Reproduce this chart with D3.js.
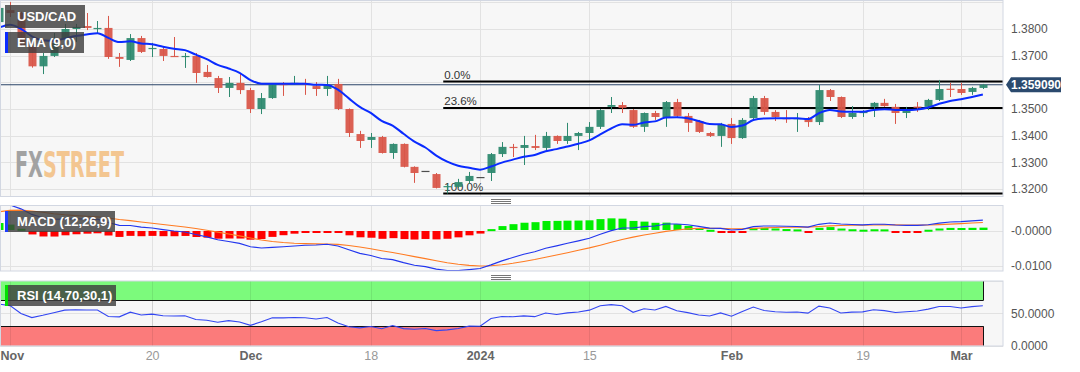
<!DOCTYPE html>
<html>
<head>
<meta charset="utf-8">
<script src="https://cdn.jsdelivr.net/npm/d3@7"></script>
<style>
  html, body { margin: 0; padding: 0; background: #fff; }
  svg { display: block; font-family: "Liberation Sans", Arial, sans-serif; }
</style>
</head>
<body>
<svg id="chart" width="1080" height="372"></svg>
<script>
// daily USD/CAD candles, Oct 31 2023 -> Mar 5 2024 (weekdays)
const opens = [
  1.3826, 1.3871, 1.3860, 1.3733, 1.3660, 1.3699, 1.3763, 1.3800, 1.3811, 1.3800,
  1.3804, 1.3695, 1.3684, 1.3766, 1.3725, 1.3725, 1.3699, 1.3695, 1.3699, 1.3639,
  1.3616, 1.3579, 1.3598, 1.3571, 1.3500, 1.3541, 1.3594, 1.3594, 1.3596, 1.3586,
  1.3575, 1.3594, 1.3500, 1.3406, 1.3384, 1.3395, 1.3335, 1.3369, 1.3283, 1.3268,
  1.3256, 1.3208, 1.3208, 1.3230, 1.3245, 1.3260, 1.3331, 1.3358, 1.3354, 1.3361,
  1.3354, 1.3399, 1.3380, 1.3399, 1.3410, 1.3433, 1.3508, 1.3515, 1.3496, 1.3433,
  1.3485, 1.3470, 1.3526, 1.3474, 1.3455, 1.3410, 1.3399, 1.3444, 1.3391, 1.3466,
  1.3541, 1.3489, 1.3466, 1.3463, 1.3463, 1.3451, 1.3571, 1.3545, 1.3470, 1.3485,
  1.3508, 1.3523, 1.3508, 1.3485, 1.3509, 1.3508, 1.3534, 1.3576, 1.3575, 1.3564,
  1.3579,
];
const highs = [
  1.3894, 1.3901, 1.3865, 1.3740, 1.3710, 1.3785, 1.3819, 1.3819, 1.3860, 1.3830,
  1.3849, 1.3710, 1.3781, 1.3774, 1.3748, 1.3733, 1.3770, 1.3710, 1.3710, 1.3665,
  1.3624, 1.3620, 1.3631, 1.3579, 1.3560, 1.3596, 1.3601, 1.3624, 1.3613, 1.3601,
  1.3624, 1.3613, 1.3502, 1.3418, 1.3410, 1.3399, 1.3371, 1.3371, 1.3285, 1.3268,
  1.3260, 1.3219, 1.3238, 1.3264, 1.3245, 1.3335, 1.3376, 1.3369, 1.3399, 1.3403,
  1.3414, 1.3401, 1.3448, 1.3414, 1.3451, 1.3500, 1.3545, 1.3526, 1.3500, 1.3487,
  1.3493, 1.3530, 1.3538, 1.3485, 1.3459, 1.3414, 1.3448, 1.3466, 1.3466, 1.3549,
  1.3549, 1.3496, 1.3496, 1.3485, 1.3470, 1.3590, 1.3575, 1.3547, 1.3511, 1.3496,
  1.3526, 1.3538, 1.3519, 1.3508, 1.3526, 1.3538, 1.3609, 1.3598, 1.3598, 1.3583,
  1.3594,
];
const lows = [
  1.3819, 1.3845, 1.3735, 1.3655, 1.3631, 1.3695, 1.3759, 1.3751, 1.3796, 1.3785,
  1.3688, 1.3658, 1.3680, 1.3710, 1.3695, 1.3680, 1.3695, 1.3654, 1.3598, 1.3618,
  1.3560, 1.3545, 1.3556, 1.3485, 1.3481, 1.3538, 1.3549, 1.3590, 1.3553, 1.3549,
  1.3549, 1.3496, 1.3395, 1.3354, 1.3354, 1.3333, 1.3313, 1.3281, 1.3223, 1.3268,
  1.3202, 1.3183, 1.3204, 1.3219, 1.3245, 1.3230, 1.3320, 1.3320, 1.3290, 1.3346,
  1.3346, 1.3369, 1.3369, 1.3346, 1.3384, 1.3425, 1.3485, 1.3485, 1.3429, 1.3414,
  1.3459, 1.3433, 1.3470, 1.3414, 1.3410, 1.3395, 1.3358, 1.3369, 1.3388, 1.3459,
  1.3478, 1.3455, 1.3448, 1.3414, 1.3433, 1.3440, 1.3530, 1.3466, 1.3463, 1.3470,
  1.3470, 1.3508, 1.3444, 1.3466, 1.3489, 1.3496, 1.3530, 1.3545, 1.3553, 1.3553,
  1.3575,
];
const closes = [
  1.3879, 1.3860, 1.3740, 1.3660, 1.3699, 1.3748, 1.3800, 1.3808, 1.3804, 1.3804,
  1.3695, 1.3688, 1.3766, 1.3714, 1.3729, 1.3699, 1.3696, 1.3699, 1.3635, 1.3620,
  1.3579, 1.3598, 1.3571, 1.3500, 1.3541, 1.3594, 1.3592, 1.3598, 1.3592, 1.3575,
  1.3590, 1.3500, 1.3410, 1.3380, 1.3395, 1.3335, 1.3369, 1.3283, 1.3260, 1.3268,
  1.3204, 1.3211, 1.3226, 1.3249, 1.3245, 1.3331, 1.3358, 1.3354, 1.3365, 1.3354,
  1.3399, 1.3380, 1.3399, 1.3410, 1.3433, 1.3496, 1.3515, 1.3504, 1.3433, 1.3485,
  1.3470, 1.3526, 1.3474, 1.3448, 1.3414, 1.3399, 1.3440, 1.3391, 1.3459, 1.3541,
  1.3489, 1.3470, 1.3463, 1.3466, 1.3451, 1.3571, 1.3545, 1.3470, 1.3485, 1.3489,
  1.3523, 1.3511, 1.3485, 1.3496, 1.3507, 1.3534, 1.3575, 1.3574, 1.3560, 1.3579,
  1.3591,
];
const lastPrice = 1.359090;

// fibonacci retracement anchors (Dec 27 low -> Feb high)
const fibHigh = 1.3603;
const fibLow = 1.3183;
const fibLevels = [0, 0.236, 1];
const fibStartIndex = 41;

// indicator starting values carried over from October
const emaSeed = 1.3805;
const ema12Seed = 1.3800;
const ema26Seed = 1.3725;
const signalSeed = 0.0055;
const avgGainSeed = 0.0025;
const avgLossSeed = 0.0014;

// date ticks: index in the series and label
const tickIndex = [1, 14, 23, 34, 44, 54, 67, 79, 88];
const tickLabels = ['Nov', '20', 'Dec', '18', '2024', '15', 'Feb', '19', 'Mar'];
const tickMajor = [true, false, true, false, true, false, true, false, true];

// 1.3600 sits under the last price tag, so it only gets a grid line
const priceGrid = [1.32, 1.33, 1.34, 1.35, 1.36, 1.37, 1.38, 1.39];
const priceTicks = [1.32, 1.33, 1.34, 1.35, 1.37, 1.38];
const macdTicks = [0, -0.01];
const rsiTicks = [50, 0];

const colours = {
  up: '#2f8a70',
  down: '#d9574a',
  flat: '#444',
  ema: '#0a2bff',
  macd: '#2236ee',
  signal: '#ff7b22',
  histUp: '#00ee00',
  histDown: '#ff0000',
  grid: '#e2e2e2',
  frame: '#d2d7e2',
  panel: '#f7f7f7',
};

const plotRight = 1003;
const panels = {
  price: { top: 0.5, bottom: 196.5 },
  macd: { top: 205.5, bottom: 271 },
  rsi: { top: 281, bottom: 346 },
};

// build weekday dates starting Oct 31 2023
const dates = [];
const day = new Date(2023, 9, 31);
while (dates.length < closes.length) {
  if (day.getDay() !== 0 && day.getDay() !== 6) dates.push(new Date(day));
  day.setDate(day.getDate() + 1);
}

const candles = closes.map((c, i) => ({
  i, date: dates[i], o: opens[i], h: highs[i], l: lows[i], c,
}));

// EMA 9 on closes
let e = emaSeed;
const ema9 = candles.map((d, i) => {
  if (i > 0) e += (2 / 10) * (d.c - e);
  return e;
});

// MACD 12,26,9
let e12 = ema12Seed;
let e26 = ema26Seed;
let sig = signalSeed;
const macd = candles.map((d, i) => {
  if (i > 0) {
    e12 += (2 / 13) * (d.c - e12);
    e26 += (2 / 27) * (d.c - e26);
    sig += (2 / 10) * ((e12 - e26) - sig);
  }
  return { m: e12 - e26, s: sig, h: (e12 - e26) - sig };
});

// RSI 14 (Wilder)
let ag = avgGainSeed;
let al = avgLossSeed;
const rsi = candles.map((d, i) => {
  if (i > 0) {
    const ch = d.c - candles[i - 1].c;
    ag = (ag * 13 + Math.max(ch, 0)) / 14;
    al = (al * 13 + Math.max(-ch, 0)) / 14;
  }
  return 100 - 100 / (1 + ag / al);
});

const svg = d3.select('#chart');
const defs = svg.append('defs');

const x = d3.scaleLinear().domain([1, 88]).range([10, 961]);
const yPrice = d3.scaleLinear().domain([1.32, 1.38]).range([189, 29]);
const yMacd = d3.scaleLinear().domain([-0.01, 0]).range([266, 231]);
const yRsi = d3.scaleLinear().domain([0, 100]).range([345.8, 280.8]);

// panel backgrounds, grids and clip paths
Object.entries(panels).forEach(([name, p]) => {
  defs.append('clipPath')
    .attr('id', `clip-${name}`)
    .append('rect')
    .attr('x', 0.5)
    .attr('y', p.top)
    .attr('width', plotRight - 0.5)
    .attr('height', p.bottom - p.top)
  ;
  svg.append('rect')
    .attr('x', 0.5)
    .attr('y', p.top)
    .attr('width', plotRight - 0.5)
    .attr('height', p.bottom - p.top)
    .style('fill', colours.panel)
  ;
  svg.append('g')
    .attr('clip-path', `url(#clip-${name})`)
    .selectAll('line')
    .data(tickIndex)
    .join('line')
    .attr('x1', (d) => Math.round(x(d)) + 0.5)
    .attr('x2', (d) => Math.round(x(d)) + 0.5)
    .attr('y1', p.top)
    .attr('y2', p.bottom)
    .style('stroke', colours.grid)
  ;
});

function hGrid(ticks, scale, panel) {
  svg.append('g')
    .selectAll('line')
    .data(ticks.filter((d) => scale(d) > panel.top && scale(d) < panel.bottom))
    .join('line')
    .attr('x1', 0.5)
    .attr('x2', plotRight)
    .attr('y1', (d) => Math.round(scale(d)) + 0.5)
    .attr('y2', (d) => Math.round(scale(d)) + 0.5)
    .style('stroke', colours.grid)
  ;
}
hGrid(priceGrid, yPrice, panels.price);
hGrid(macdTicks, yMacd, panels.macd);
hGrid(rsiTicks.concat([100]), yRsi, { top: 280, bottom: 347 });

// price panel
const price = svg.append('g').attr('clip-path', 'url(#clip-price)');

// watermark: one word, grey "FX" then orange "STREET" via a hard-stop gradient
const markGrad = defs.append('linearGradient')
  .attr('id', 'mark-fill')
  .attr('gradientUnits', 'userSpaceOnUse')
  .attr('x1', 15)
  .attr('x2', 124)
  .attr('y1', 0)
  .attr('y2', 0)
;
[[0, '#a2a2a2'], [0.255, '#a2a2a2'], [0.255, '#f3c691'], [1, '#f3c691']].forEach(([o, c]) => {
  markGrad.append('stop').attr('offset', o).attr('stop-color', c);
});
price.append('text')
  .attr('x', 15)
  .attr('y', 177)
  .attr('textLength', 109)
  .attr('lengthAdjust', 'spacingAndGlyphs')
  .text('FXSTREET')
  .style('font-family', '"DejaVu Sans Condensed", "Liberation Sans Narrow", sans-serif')
  .style('font-weight', 'bold')
  .style('font-size', '36px')
  .style('fill', 'url(#mark-fill)')
;

// current price line
price.append('line')
  .attr('x1', 0)
  .attr('x2', plotRight)
  .attr('y1', yPrice(lastPrice))
  .attr('y2', yPrice(lastPrice))
  .style('stroke', '#2b4468')
  .style('stroke-width', 1)
;

// fibonacci levels
const fib = price.append('g');
fibLevels.forEach((lv) => {
  const py = yPrice(fibHigh - (fibHigh - fibLow) * lv);
  fib.append('line')
    .attr('x1', x(fibStartIndex) - 4)
    .attr('x2', plotRight)
    .attr('y1', py)
    .attr('y2', py)
    .style('stroke', '#000')
    .style('stroke-width', 2)
  ;
  fib.append('text')
    .attr('x', x(fibStartIndex) - 3)
    .attr('y', py - 3)
    .text(`${(lv * 100).toFixed(1)}%`)
    .style('font-size', '11.5px')
    .style('fill', '#333')
  ;
});

// candles
const candleColour = (d) => {
  if (d.o === d.c && d.h === d.l) return colours.flat;
  return d.c >= d.o ? colours.up : colours.down;
};
const cg = price.append('g')
  .selectAll('g')
  .data(candles)
  .join('g')
;
cg.append('line')
  .attr('x1', (d) => Math.round(x(d.i)) + 0.5)
  .attr('x2', (d) => Math.round(x(d.i)) + 0.5)
  .attr('y1', (d) => yPrice(d.h))
  .attr('y2', (d) => yPrice(d.l))
  .style('stroke', candleColour)
;
cg.append('rect')
  .attr('x', (d) => Math.round(x(d.i)) - 3.5)
  .attr('width', 8)
  .attr('y', (d) => yPrice(Math.max(d.o, d.c)))
  .attr('height', (d) => Math.max(1.2, Math.abs(yPrice(d.o) - yPrice(d.c))))
  .style('fill', candleColour)
  .style('opacity', 0.95)
;

// EMA line
price.append('path')
  .datum(ema9)
  .attr('d', d3.line().x((d, i) => x(i)).y((d) => yPrice(d)).curve(d3.curveMonotoneX))
  .style('fill', 'none')
  .style('stroke', colours.ema)
  .style('stroke-width', 2)
;

// MACD panel
const mg = svg.append('g').attr('clip-path', 'url(#clip-macd)');
mg.selectAll('rect.hist')
  .data(macd)
  .join('rect')
  .attr('class', 'hist')
  .attr('x', (d, i) => Math.round(x(i)) - 3.5)
  .attr('width', 8)
  .attr('y', (d) => (d.h >= 0 ? yMacd(d.h) - 1 : yMacd(0)))
  .attr('height', (d) => Math.max(2, Math.abs(yMacd(d.h) - yMacd(0))))
  .style('fill', (d) => (d.h >= 0 ? colours.histUp : colours.histDown))
;
mg.append('path')
  .datum(macd)
  .attr('d', d3.line().x((d, i) => x(i)).y((d) => yMacd(d.s)))
  .style('fill', 'none')
  .style('stroke', colours.signal)
  .style('stroke-width', 1.1)
;
mg.append('path')
  .datum(macd)
  .attr('d', d3.line().x((d, i) => x(i)).y((d) => yMacd(d.m)))
  .style('fill', 'none')
  .style('stroke', colours.macd)
  .style('stroke-width', 1.1)
;

// RSI panel
const rg = svg.append('g').attr('clip-path', 'url(#clip-rsi)');
const zoneRight = Math.round(x(candles.length - 1)) + 0.5;
rg.append('rect')
  .attr('x', 0)
  .attr('width', zoneRight)
  .attr('y', yRsi(100))
  .attr('height', yRsi(70) - yRsi(100))
  .style('fill', '#7cfa7c')
;
rg.append('rect')
  .attr('x', 0)
  .attr('width', zoneRight)
  .attr('y', yRsi(30))
  .attr('height', yRsi(0) - yRsi(30))
  .style('fill', '#fb7b7b')
;
rg.selectAll('line.vg')
  .data(tickIndex)
  .join('line')
  .attr('class', 'vg')
  .attr('x1', (d) => Math.round(x(d)) + 0.5)
  .attr('x2', (d) => Math.round(x(d)) + 0.5)
  .attr('y1', yRsi(100))
  .attr('y2', yRsi(0))
  .style('stroke', 'rgba(0,0,0,0.08)')
;
[70, 30].forEach((lv) => {
  rg.append('line')
    .attr('x1', 0)
    .attr('x2', zoneRight)
    .attr('y1', Math.round(yRsi(lv)) + 0.5)
    .attr('y2', Math.round(yRsi(lv)) + 0.5)
    .style('stroke', '#111')
  ;
});
[[100, 70], [30, 0]].forEach(([a, b]) => {
  rg.append('line')
    .attr('x1', zoneRight)
    .attr('x2', zoneRight)
    .attr('y1', yRsi(a))
    .attr('y2', yRsi(b))
    .style('stroke', '#111')
  ;
});
rg.append('path')
  .datum(rsi)
  .attr('d', d3.line().x((d, i) => x(i)).y((d) => yRsi(d)))
  .style('fill', 'none')
  .style('stroke', '#3346f2')
  .style('stroke-width', 1.1)
;

// panel frames
Object.values(panels).forEach((p) => {
  svg.append('rect')
    .attr('x', 0.5)
    .attr('y', p.top)
    .attr('width', plotRight - 0.5)
    .attr('height', p.bottom - p.top)
    .style('fill', 'none')
    .style('stroke', colours.frame)
  ;
});

// resize grips between panels
[199.5, 275.5].forEach((gy) => {
  [0, 2, 4].forEach((off) => {
    svg.append('line')
      .attr('x1', 491)
      .attr('x2', 511)
      .attr('y1', gy + off)
      .attr('y2', gy + off)
      .style('stroke', '#777')
    ;
  });
});

// right axes
function rightAxis(ticks, scale, fmt) {
  svg.append('g')
    .attr('transform', `translate(${plotRight},0)`)
    .call(d3.axisRight(scale).tickValues(ticks).tickSize(0).tickPadding(8).tickFormat(fmt))
    .call((g) => g.select('.domain').remove())
    .call((g) => g.selectAll('text')
      .style('font-size', '12px')
      .style('fill', '#555')
      .style('font-family', '"Liberation Sans", Arial, sans-serif'))
  ;
}
rightAxis(priceTicks, yPrice, d3.format('.4f'));
rightAxis(macdTicks, yMacd, (d) => `-${Math.abs(d).toFixed(4)}`);
rightAxis(rsiTicks, yRsi, d3.format('.4f'));

// last price tag
const tagY = yPrice(lastPrice);
svg.append('path')
  .attr('d', `M1006,${tagY} L1011,${tagY - 7.5} L1061,${tagY - 7.5} L1061,${tagY + 7.5} L1011,${tagY + 7.5} Z`)
  .style('fill', '#2b4a6e')
;
svg.append('text')
  .attr('x', 1036)
  .attr('y', tagY + 4)
  .attr('text-anchor', 'middle')
  .text(lastPrice.toFixed(6))
  .style('font-size', '12px')
  .style('font-weight', 'bold')
  .style('fill', '#fff')
;

// date axis
svg.append('g')
  .attr('transform', 'translate(0,351)')
  .call(d3.axisBottom(x).tickValues(tickIndex).tickSize(0).tickPadding(0)
    .tickFormat((d, i) => tickLabels[i]))
  .call((g) => g.select('.domain').remove())
  .call((g) => g.selectAll('text')
    .style('font-size', '12.5px')
    .style('font-family', '"Liberation Sans", Arial, sans-serif')
    .style('font-weight', (d, i) => (tickMajor[i] ? 'bold' : 'normal'))
    .style('fill', (d, i) => (tickMajor[i] ? '#666' : '#999')))
;
// first label sits at the left edge
svg.selectAll('g.tick').filter((d) => d === 1).select('text').attr('text-anchor', 'start').attr('x', -10);

// legend boxes
const legends = [
  { label: 'USD/CAD', y: 5, w: 80, h: 23, bar: null },
  { label: 'EMA (9,0)', y: 32, w: 79, h: 21, bar: '#0a2bff' },
  { label: 'MACD (12,26,9)', y: 211, w: 110, h: 21, bar: '#1e3cff' },
  { label: 'RSI (14,70,30,1)', y: 285, w: 111, h: 21, bar: '#00e000' },
];
legends.forEach((d) => {
  const item = svg.append('g').attr('transform', `translate(5,${d.y})`);
  item.append('rect')
    .attr('width', d.w)
    .attr('height', d.h)
    .style('fill', 'rgba(62,62,62,0.82)')
  ;
  if (d.bar) {
    item.append('rect')
      .attr('width', 3)
      .attr('height', d.h)
      .style('fill', d.bar)
    ;
  }
  item.append('text')
    .attr('x', 12)
    .attr('y', d.h / 2 + 4.5)
    .text(d.label)
    .style('font-size', '13px')
    .style('font-weight', 'bold')
    .style('fill', '#fff')
  ;
});
</script>
</body>
</html>
